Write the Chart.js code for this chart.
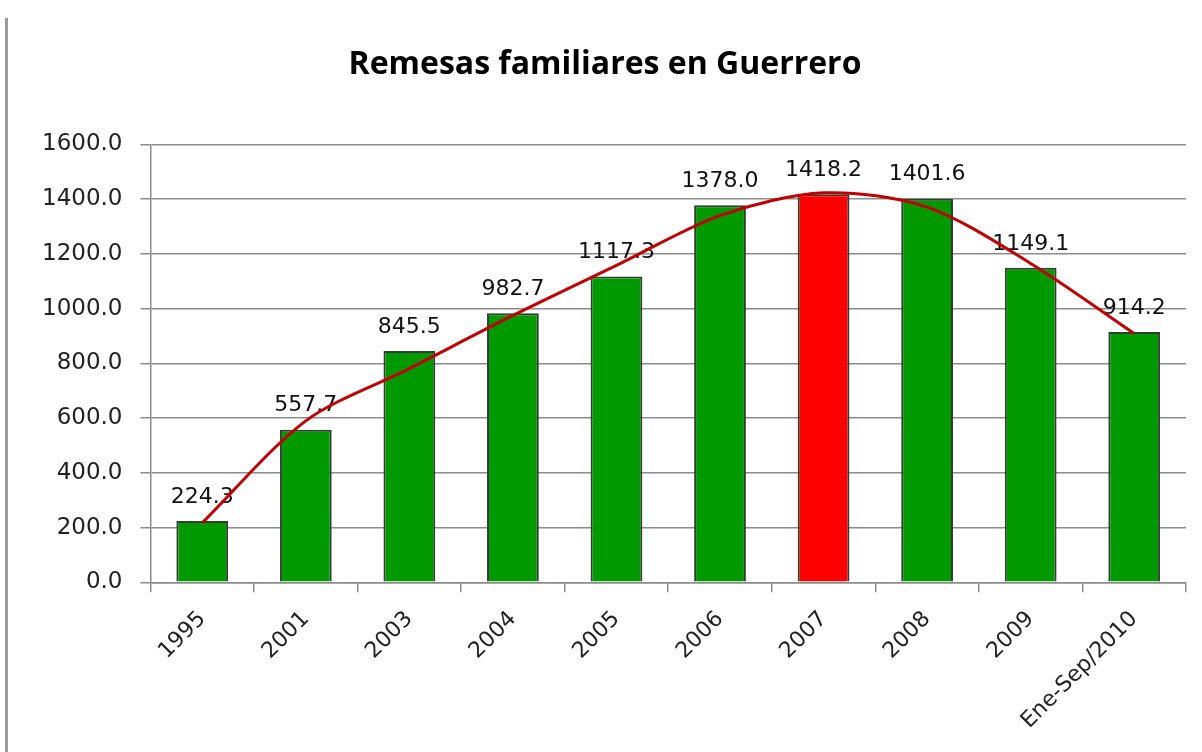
<!DOCTYPE html>
<html>
<head>
<meta charset="utf-8">
<script src="https://cdn.jsdelivr.net/npm/chart.js@4.4.0/dist/chart.umd.min.js"></script>
<style>
  html, body { margin: 0; padding: 0; background: #fff; }
  #wrap { position: relative; width: 1202px; height: 752px; }
  #frame { position: absolute; left: 5px; top: 18px; bottom: 0; border-left: 3px solid #9a9a9a; }
</style>
</head>
<body>
<div id="wrap">
  <div id="frame"></div>
  <canvas id="chart" width="1202" height="752"></canvas>
</div>
<script>
// ── Data ─────────────────────────────────────────────────────
const TITLE = 'Remesas familiares en Guerrero';
const categories = ['1995', '2001', '2003', '2004', '2005', '2006', '2007', '2008', '2009', 'Ene-Sep/2010'];
const remesas    = [224.3, 557.7, 845.5, 982.7, 1117.3, 1378.0, 1418.2, 1401.6, 1149.1, 914.2];
// polynomial trend line at each category
const tendencia  = [217, 590, 781, 975, 1158, 1340, 1423, 1371, 1165, 909];
const yTicks     = [0, 200, 400, 600, 800, 1000, 1200, 1400, 1600];

const FONT = 'DejaVu Sans';
const maxVal = Math.max(...remesas);

// ── Value labels above bars (drawn before the trend line) ────
const barLabels = {
  id: 'barLabels',
  afterDatasetDraw(chart, args) {
    if (args.index !== 0) return;
    const ctx = chart.ctx;
    ctx.save();
    ctx.font = `22px "${FONT}"`;
    ctx.fillStyle = '#111';
    ctx.textAlign = 'center';
    ctx.textBaseline = 'middle';
    args.meta.data.forEach((bar, i) => {
      ctx.fillText(remesas[i].toFixed(1), bar.x, bar.y - 24);
    });
    ctx.restore();
  }
};

new Chart(document.getElementById('chart'), {
  data: {
    labels: categories,
    datasets: [{
      type: 'bar',
      data: remesas,
      order: 1,
      backgroundColor: ctx => ctx.raw === maxVal ? '#ff0000' : '#009900',
      borderColor: '#2f3f2f',
      borderWidth: 2,
      barPercentage: 0.5,
      categoryPercentage: 1,
    }, {
      type: 'line',
      data: tendencia,
      order: 0,
      borderColor: '#c00000',
      borderWidth: 3,
      pointRadius: 0,
      tension: 0.3,
      fill: false,
    }]
  },
  options: {
    responsive: false,
    animation: false,
    layout: { padding: { left: 24, right: 16, top: 0, bottom: 4 } },
    plugins: {
      legend: { display: false },
      tooltip: { enabled: false },
      title: {
        display: true,
        text: TITLE,
        color: '#000',
        font: { family: '"Liberation Sans Narrow", "Open Sans"', size: 32, weight: 'bold' },
        padding: { top: 46, bottom: 60 },
      },
    },
    scales: {
      x: {
        offset: true,
        grid: { display: true, drawOnChartArea: false, offset: true, tickLength: 10, color: '#8c8c8c', lineWidth: 1.5 },
        border: { color: '#8c8c8c', width: 1.5 },
        ticks: {
          minRotation: 45, maxRotation: 45,
          color: '#222',
          padding: 14,
          font: { family: FONT, size: 22 },
        },
      },
      y: {
        min: 0, max: 1600,
        afterBuildTicks: axis => { axis.ticks = yTicks.map(v => ({ value: v })); },
        grid: { color: '#8c8c8c', lineWidth: 1.5, tickLength: 10 },
        border: { color: '#8c8c8c', width: 1.5 },
        ticks: {
          color: '#222',
          padding: 18,
          font: { family: FONT, size: 23 },
          callback: v => v.toFixed(1),
        },
      }
    }
  },
  plugins: [barLabels]
});
</script>
</body>
</html>
